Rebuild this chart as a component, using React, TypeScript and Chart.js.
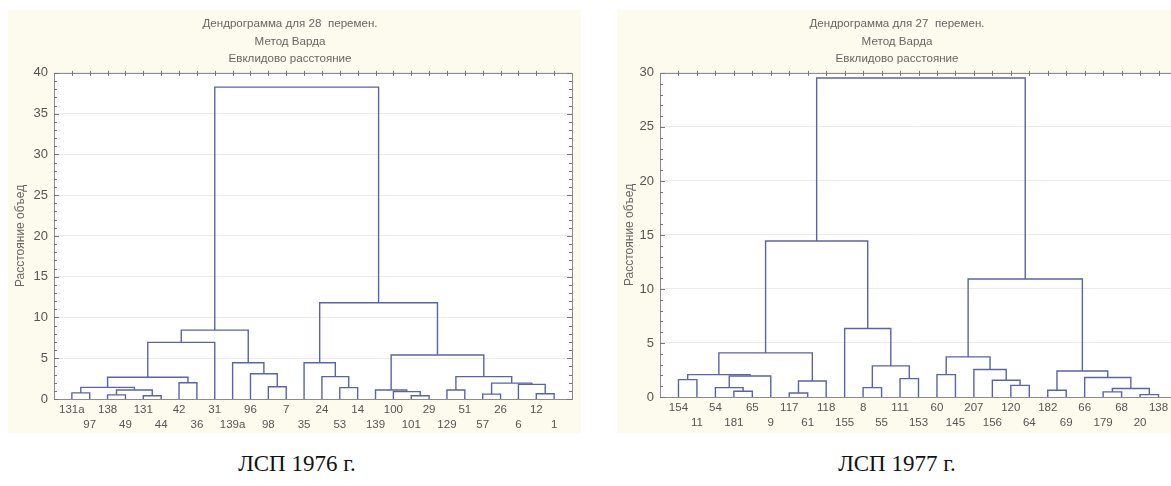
import { useEffect, useRef } from 'react';
import { Chart, registerables } from 'chart.js';

Chart.register(...registerables);
Chart.defaults.font.family = '"Liberation Sans", Arial, sans-serif';

// ---------- data: ЛСП 1976 г. ----------
const leftTitle = ['Дендрограмма для 28  перемен.', 'Метод Варда', 'Евклидово расстояние'];
const leftLeaves = ['131a', '97', '138', '49', '131', '44', '42', '36', '31', '139a', '96', '98', '7', '35', '24', '53', '14', '139', '100', '101', '29', '129', '51', '57', '26', '6', '12', '1'];
// [node a, node b, height]; nodes 0..n-1 are leaves, n+i is merge i
const leftMerges: [number, number, number][] = [
  [0, 1, 0.75], [2, 3, 0.5], [4, 5, 0.4], [29, 30, 1.1], [28, 31, 1.43], [6, 7, 2.0], [32, 33, 2.66], [34, 8, 6.95],
  [11, 12, 1.5], [10, 36, 3.1], [9, 37, 4.45], [35, 38, 8.45],
  [15, 16, 1.4], [14, 40, 2.75], [13, 41, 4.45],
  [19, 20, 0.4], [18, 43, 0.9], [17, 44, 1.1], [21, 22, 1.1], [23, 24, 0.6], [26, 27, 0.65], [25, 48, 1.8], [47, 49, 1.95],
  [46, 50, 2.74], [45, 51, 5.4], [42, 52, 11.8], [39, 53, 38.25],
];
const leftYMax = 40;

// ---------- data: ЛСП 1977 г. ----------
const rightTitle = ['Дендрограмма для 27  перемен.', 'Метод Варда', 'Евклидово расстояние'];
const rightLeaves = ['154', '11', '54', '181', '65', '9', '117', '61', '118', '155', '8', '55', '111', '153', '60', '145', '207', '156', '120', '64', '182', '69', '66', '179', '68', '20', '138'];
const rightMerges: [number, number, number][] = [
  [0, 1, 1.61], [3, 4, 0.53], [2, 28, 0.87], [29, 5, 1.95], [27, 30, 2.07], [6, 7, 0.37], [32, 8, 1.48], [31, 33, 4.08],
  [10, 11, 0.87], [12, 13, 1.7], [35, 36, 2.88], [9, 37, 6.34], [34, 38, 14.44],
  [14, 15, 2.07], [18, 19, 1.08], [17, 41, 1.55], [16, 42, 2.54], [40, 43, 3.71],
  [20, 21, 0.62], [23, 24, 0.47], [25, 26, 0.22], [46, 47, 0.78], [22, 48, 1.8], [45, 49, 2.41], [44, 50, 10.92],
  [39, 51, 29.53],
];
const rightYMax = 30;

const yAxisTitle = 'Расстояние объед';
const captions = ['ЛСП 1976 г.', 'ЛСП 1977 г.'];

const LINE = '#5b63a8';

function buildLinks(leaves: string[], merges: [number, number, number][]) {
  const pos: { x: number; y: number }[] = leaves.map((_, i) => ({ x: i + 1, y: 0 }));
  const links: { x: number; y: number }[][] = [];
  merges.forEach(([a, b, h]) => {
    const pa = pos[a];
    const pb = pos[b];
    links.push([
      { x: pa.x, y: pa.y },
      { x: pa.x, y: h },
      { x: pb.x, y: h },
      { x: pb.x, y: pb.y },
    ]);
    pos.push({ x: (pa.x + pb.x) / 2, y: h });
  });
  return links;
}

const framePlugin = {
  id: 'frame',
  beforeDraw(chart: any) {
    const { ctx, chartArea } = chart;
    const { left, top, right, bottom } = chartArea;
    ctx.save();
    ctx.fillStyle = '#ffffff';
    ctx.fillRect(left, top, right - left, bottom - top);
    ctx.restore();
  },
  afterDraw(chart: any) {
    const { ctx, chartArea } = chart;
    const { left, top, right, bottom } = chartArea;
    ctx.save();
    ctx.strokeStyle = '#8c8c8c';
    ctx.lineWidth = 1;
    ctx.strokeRect(Math.round(left) + 0.5, Math.round(top) + 0.5, Math.round(right - left), Math.round(bottom - top));
    ctx.strokeStyle = '#777';
    ctx.beginPath();
    const ys = chart.scales.y;
    for (let v = ys.min; v <= ys.max; v += 1) {
      const y = Math.round(ys.getPixelForValue(v)) + 0.5;
      const len = v % 5 === 0 ? 5 : 3;
      ctx.moveTo(left, y);
      ctx.lineTo(left + len, y);
      ctx.moveTo(right, y);
      ctx.lineTo(right - len, y);
    }
    const xs = chart.scales.x;
    for (let v = 1; v < xs.max; v += 1) {
      const x = Math.round(xs.getPixelForValue(v)) + 0.5;
      ctx.moveTo(x, top - 2);
      ctx.lineTo(x, top + 3);
    }
    ctx.stroke();
    ctx.restore();
  },
};

function Dendro(props: {
  leaves: string[];
  merges: [number, number, number][];
  yMax: number;
  xMax: number;
  title: string[];
  width: number;
  height: number;
  yWidth: number;
  xHeight: number;
  xPad: number;
}) {
  const ref = useRef<HTMLCanvasElement | null>(null);
  useEffect(() => {
    const canvas = ref.current;
    if (!canvas) return;
    const { leaves, merges, yMax, xMax, title, yWidth, xHeight, xPad } = props;
    const links = buildLinks(leaves, merges);
    const chart = new Chart(canvas, {
      type: 'scatter',
      data: {
        datasets: links.map((pts) => ({
          data: pts,
          showLine: true,
          borderColor: LINE,
          borderWidth: 1.4,
          pointRadius: 0,
          tension: 0,
          clip: false as any,
        })),
      },
      options: {
        animation: false,
        responsive: false,
        events: [],
        layout: { padding: { left: 0, right: 9, top: 0, bottom: 0 } },
        plugins: {
          legend: { display: false },
          tooltip: { enabled: false },
          title: {
            display: true,
            text: title,
            color: '#666',
            font: { size: 11.6, weight: 'normal', lineHeight: 1.52 },
            padding: { top: 5, bottom: 5 },
          },
        },
        scales: {
          x: {
            type: 'linear',
            min: 0,
            max: xMax,
            afterFit: (s: any) => {
              s.height = xHeight;
            },
            grid: { display: false, drawTicks: false },
            border: { display: false },
            ticks: {
              stepSize: 1,
              autoSkip: false,
              maxRotation: 0,
              padding: xPad,
              color: '#555',
              font: { size: 11.5, lineHeight: 1.25 },
              callback: (v: any) => {
                const i = Number(v) - 1;
                if (i < 0 || i >= leaves.length) return '';
                return i % 2 === 0 ? [leaves[i]] : ['', leaves[i]];
              },
            },
          },
          y: {
            type: 'linear',
            min: 0,
            max: yMax,
            afterFit: (s: any) => {
              s.width = yWidth;
            },
            grid: { color: '#ebebeb', drawTicks: false },
            border: { display: false },
            ticks: { stepSize: 5, padding: 6, color: '#555', font: { size: 13 } },
            title: {
              display: true,
              text: yAxisTitle,
              color: '#666',
              font: { size: 12 },
              padding: { top: 5, bottom: 0 },
            },
          },
        },
      },
      plugins: [framePlugin],
    });
    return () => chart.destroy();
  }, []);
  return <canvas ref={ref} width={props.width} height={props.height} style={{ position: 'absolute', left: 0, top: 0 }} />;
}

const captionStyle = {
  position: 'absolute' as const,
  width: 400,
  top: 451,
  textAlign: 'center' as const,
  fontFamily: '"Liberation Serif", "Times New Roman", serif',
  fontSize: 23,
  color: '#111',
};

export default function App() {
  return (
    <div style={{ position: 'fixed', left: 0, top: 0, width: 1171, height: 486, overflow: 'hidden', background: '#fff' }}>
      <div style={{ position: 'absolute', left: 8, top: 10, width: 573, height: 423, background: '#fdfbee' }}>
        <Dendro leaves={leftLeaves} merges={leftMerges} yMax={leftYMax} xMax={leftLeaves.length + 1} title={leftTitle} width={573} height={423} yWidth={46} xHeight={34} xPad={4} />
      </div>
      <div style={{ position: 'absolute', left: 617, top: 10, width: 569, height: 423, background: '#fdfbee' }}>
        <Dendro leaves={rightLeaves} merges={rightMerges} yMax={rightYMax} xMax={rightLeaves.length + 1} title={rightTitle} width={569} height={423} yWidth={43} xHeight={36} xPad={4} />
      </div>
      <div style={{ ...captionStyle, left: 97 }}>{captions[0]}</div>
      <div style={{ ...captionStyle, left: 697 }}>{captions[1]}</div>
    </div>
  );
}
